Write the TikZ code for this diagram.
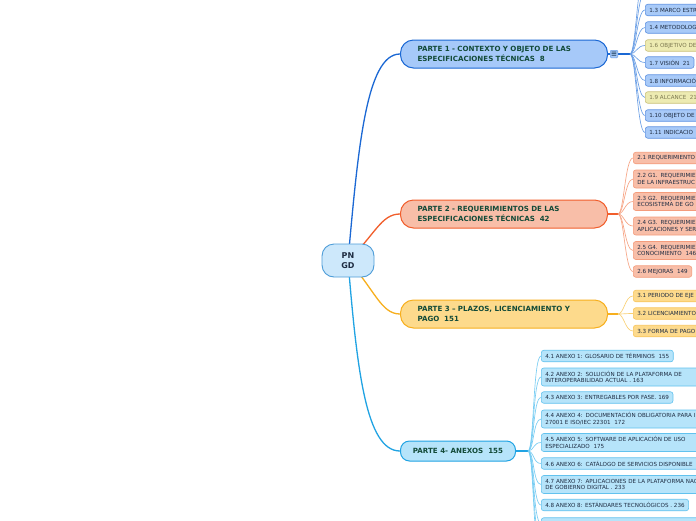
\documentclass[tikz,border=0pt]{standalone}
\usepackage{fontspec}
\setmainfont{DejaVu Sans}
\usetikzlibrary{backgrounds,calc}
\definecolor{ponefill}{HTML}{A6C9F9}
\definecolor{poneline}{HTML}{1B68D4}
\definecolor{ponethin}{HTML}{6B9FE6}
\definecolor{ponechild}{HTML}{A8CAF8}
\definecolor{ponechildline}{HTML}{5E92E2}
\definecolor{yelfill}{HTML}{EDEBB2}
\definecolor{yelline}{HTML}{CBC27C}
\definecolor{yeltext}{HTML}{7C7850}
\definecolor{ptwofill}{HTML}{F8BEA8}
\definecolor{ptwoline}{HTML}{F15E2C}
\definecolor{ptwothin}{HTML}{F7A484}
\definecolor{ptwochildline}{HTML}{F49C7C}
\definecolor{pthreefill}{HTML}{FDDA8C}
\definecolor{pthreeline}{HTML}{F7AF1E}
\definecolor{pthreethin}{HTML}{FAD072}
\definecolor{pthreechildline}{HTML}{F8C55C}
\definecolor{pfourfill}{HTML}{B6E4FA}
\definecolor{pfourline}{HTML}{20A3E3}
\definecolor{pfourthin}{HTML}{78CDF3}
\definecolor{pfourchildline}{HTML}{62C2EE}
\definecolor{centerfill}{HTML}{CDE8FB}
\definecolor{centerline}{HTML}{4E9DD8}
\definecolor{maintext}{HTML}{124A38}
\definecolor{leaftext}{HTML}{1E2C42}
\definecolor{icontext}{HTML}{2A4A6A}
\tikzset{
  mainbox/.style={draw, line width=1pt, rounded corners=13pt, anchor=west,
    minimum height=28pt, minimum width=207pt, inner xsep=17pt, inner ysep=0pt,
    text width=173pt, align=left, text=maintext,
    font=\bfseries\fontsize{7.1}{9.3}\selectfont},
  leaf/.style={draw, line width=0.6pt, rounded corners=2.5pt, anchor=west,
    inner xsep=4pt, inner ysep=0pt, align=left, text=leaftext,
    font=\fontsize{5.6}{6.8}\selectfont, minimum height=11.5pt},
  leafwide/.style={leaf, text width=200pt},
  tall/.style={minimum height=18pt},
  oneleaf/.style={fill=ponechild, draw=ponechildline},
  yelleaf/.style={fill=yelfill, draw=yelline, text=yeltext},
  twoleaf/.style={fill=ptwofill, draw=ptwochildline},
  threeleaf/.style={fill=pthreefill, draw=pthreechildline},
  fourleaf/.style={fill=pfourfill, draw=pfourchildline},
  bigline/.style={line width=1.3pt},
  fanline/.style={line width=0.65pt},
}
\begin{document}
\begin{tikzpicture}[x=1pt,y=-1pt]
\useasboundingbox (0,0) rectangle (696,520);
\clip (0,0) rectangle (696,520);

% central node
\node[draw=centerline, fill=centerfill, line width=0.9pt, rounded corners=12pt,
  minimum width=52pt, minimum height=33pt, align=center, text=leaftext,
  font=\bfseries\fontsize{8}{10}\selectfont] (pn) at (348,260.5) {PN\\GD};

% main nodes
\node[mainbox, fill=ponefill, draw=poneline] (p1) at (400,54)
  {PARTE 1 - CONTEXTO Y OBJETO DE LAS\\ESPECIFICACIONES TÉCNICAS~~8};
\node[mainbox, fill=ptwofill, draw=ptwoline] (p2) at (400,214)
  {PARTE 2 - REQUERIMIENTOS DE LAS\\ESPECIFICACIONES TÉCNICAS~~42};
\node[mainbox, fill=pthreefill, draw=pthreeline] (p3) at (400,314)
  {PARTE 3 – PLAZOS, LICENCIAMIENTO Y\\PAGO~~151};
\node[draw=pfourline, fill=pfourfill, line width=1pt, rounded corners=9pt,
  minimum width=115pt, minimum height=20pt, anchor=west, inner sep=0pt,
  font=\bfseries\fontsize{7.1}{9}\selectfont, text=maintext] (p4) at (400,451)
  {PARTE 4- ANEXOS~~155};

% collapse icon of part 1
\node[draw=ponethin, fill=ponefill, line width=0.5pt, rounded corners=1pt,
  minimum size=7.5pt, inner sep=0pt, text=icontext,
  font=\bfseries\fontsize{7.5}{7.5}\selectfont] (ic1) at (614,54) {≡};

% junctions
\coordinate (jone) at (630,54);
\coordinate (jtwo) at (618,214);
\coordinate (jthree) at (618,314);
\coordinate (jfour) at (528,451);

% part 1 children
\coordinate (c11) at (645,-25);
\coordinate (c12) at (645,-7.5);
\node[leafwide, oneleaf] (c13) at (645,10) {1.3 MARCO ESTR};
\node[leafwide, oneleaf] (c14) at (645,27.5) {1.4 METODOLOG};
\node[leafwide, yelleaf] (c16) at (645,45.5) {1.6 OBJETIVO DE};
\node[leaf, oneleaf] (c17) at (645,62.5) {1.7 VISIÓN~~21};
\node[leafwide, oneleaf] (c18) at (645,80.5) {1.8 INFORMACIÓ};
\node[leaf, yelleaf] (c19) at (645,97.5) {1.9 ALCANCE~~21};
\node[leafwide, oneleaf] (c110) at (645,115.5) {1.10 OBJETO DE};
\node[leafwide, oneleaf] (c111) at (645,132.5) {1.11 INDICACIO};

% part 2 children
\node[leafwide, twoleaf] (c21) at (633,158) {2.1 REQUERIMIENTO};
\node[leafwide, twoleaf, tall] (c22) at (633,179) {2.2 G1. REQUERIMIE\\DE LA INFRAESTRUC};
\node[leafwide, twoleaf, tall] (c23) at (633,201.5) {2.3 G2. REQUERIMIE\\ECOSISTEMA DE GO};
\node[leafwide, twoleaf, tall] (c24) at (633,226) {2.4 G3. REQUERIMIE\\APLICACIONES Y SER};
\node[leafwide, twoleaf, tall] (c25) at (633,250.5) {2.5 G4. REQUERIMIE\\CONOCIMIENTO~~146};
\node[leaf, twoleaf] (c26) at (633,271.5) {2.6 MEJORAS~~149};

% part 3 children
\node[leafwide, threeleaf] (c31) at (633,296) {3.1 PERIODO DE EJE};
\node[leafwide, threeleaf] (c32) at (633,313.5) {3.2 LICENCIAMIENTO};
\node[leafwide, threeleaf] (c33) at (633,331) {3.3 FORMA DE PAGO};

% part 4 children
\node[leaf, fourleaf] (c41) at (541,356) {4.1 ANEXO 1: GLOSARIO DE TÉRMINOS~~155};
\node[leafwide, fourleaf, tall] (c42) at (541,377) {4.2 ANEXO 2: SOLUCIÓN DE LA PLATAFORMA DE\\INTEROPERABILIDAD ACTUAL . 163};
\node[leaf, fourleaf] (c43) at (541,397.5) {4.3 ANEXO 3: ENTREGABLES POR FASE. 169};
\node[leafwide, fourleaf, tall] (c44) at (541,419) {4.4 ANEXO 4: DOCUMENTACIÓN OBLIGATORIA PARA I\\27001 E ISO/IEC 22301~~172};
\node[leafwide, fourleaf, tall] (c45) at (541,442.5) {4.5 ANEXO 5: SOFTWARE DE APLICACIÓN DE USO\\ESPECIALIZADO~~175};
\node[leafwide, fourleaf] (c46) at (541,463.5) {4.6 ANEXO 6: CATÁLOGO DE SERVICIOS DISPONIBLE};
\node[leafwide, fourleaf, tall] (c47) at (541,484.5) {4.7 ANEXO 7: APLICACIONES DE LA PLATAFORMA NAC\\DE GOBIERNO DIGITAL . 233};
\node[leaf, fourleaf] (c48) at (541,505) {4.8 ANEXO 8: ESTÁNDARES TECNOLÓGICOS . 236};
\node[leafwide, fourleaf] (c49) at (541,523.5) {};
\coordinate (c410) at (541,541);
\coordinate (c411) at (541,559);

\begin{scope}[on background layer]
  \fill[white] (0,0) rectangle (696,520);
  % main connectors
  \draw[bigline, poneline] (pn.center) .. controls (358,150) and (366,54) .. (p1.west);
  \draw[bigline, ptwoline] (pn.center) .. controls (375,235) and (381,214) .. (p2.west);
  \draw[bigline, pthreeline] (pn.center) .. controls (375,290) and (381,314) .. (p3.west);
  \draw[bigline, pfourline] (pn.center) .. controls (357,370) and (366,451) .. (p4.west);
  % short stems
  \draw[bigline, poneline] (p1.east) -- (ic1.west);
  \draw[bigline, poneline] (ic1.east) -- (jone);
  \draw[bigline, ptwoline] (p2.east) -- (jtwo);
  \draw[bigline, pthreeline] (p3.east) -- (jthree);
  \draw[bigline, pfourline] (p4.east) -- (jfour);
  % fans
  \foreach \n in {c13,c14,c16,c17,c18,c19,c110,c111}
    \draw[fanline, ponethin] (jone) .. controls ($(jone)+(6,0)$) and ($(\n.west)+(-8,0)$) .. (\n.west);
  \foreach \n in {c11,c12}
    \draw[fanline, ponethin] (jone) .. controls ($(jone)+(6,0)$) and ($(\n)+(-8,0)$) .. (\n);
  \foreach \n in {c21,c22,c23,c24,c25,c26}
    \draw[fanline, ptwothin] (jtwo) .. controls ($(jtwo)+(6,0)$) and ($(\n.west)+(-8,0)$) .. (\n.west);
  \foreach \n in {c31,c32,c33}
    \draw[fanline, pthreethin] (jthree) .. controls ($(jthree)+(6,0)$) and ($(\n.west)+(-8,0)$) .. (\n.west);
  \foreach \n in {c41,c42,c43,c44,c45,c46,c47,c48,c49}
    \draw[fanline, pfourthin] (jfour) .. controls ($(jfour)+(6,0)$) and ($(\n.west)+(-8,0)$) .. (\n.west);
  \foreach \n in {c410,c411}
    \draw[fanline, pfourthin] (jfour) .. controls ($(jfour)+(6,0)$) and ($(\n)+(-8,0)$) .. (\n);
\end{scope}
\end{tikzpicture}
\end{document}
